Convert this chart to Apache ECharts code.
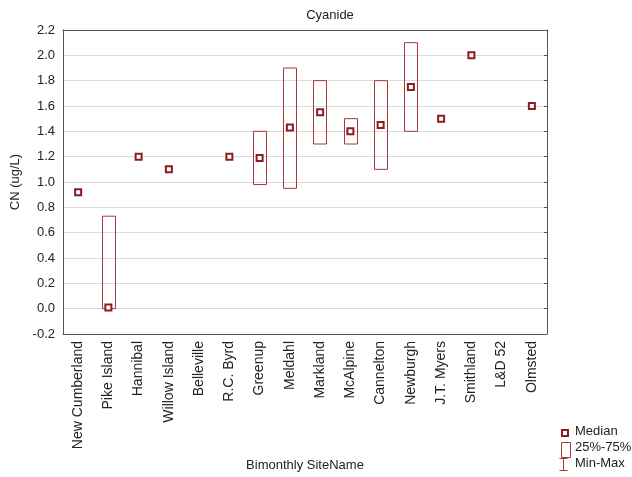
<!DOCTYPE html>
<html><head><meta charset="utf-8">
<script src="https://cdn.jsdelivr.net/npm/echarts@6/dist/echarts.min.js"></script>
<style>html,body{margin:0;padding:0;background:#fff}#c{width:632px;height:477px}</style>
</head><body><div id="c"></div>
<script>
const categories = ['New Cumberland','Pike Island','Hannibal','Willow Island','Belleville','R.C. Byrd','Greenup','Meldahl','Markland','McAlpine','Cannelton','Newburgh','J.T. Myers','Smithland','L&D 52','Olmsted'];
const medians = [0.92, 0.01, 1.2, 1.1, null, 1.2, 1.19, 1.43, 1.55, 1.4, 1.45, 1.75, 1.5, 2.0, null, 1.6];
const q25 = [null, 0.0, null, null, null, null, 0.98, 0.95, 1.3, 1.3, 1.1, 1.4, null, null, null, null];
const q75 = [null, 0.73, null, null, null, null, 1.4, 1.9, 1.8, 1.5, 1.8, 2.1, null, null, null, null];
const yTicks = {min: -0.2, max: 2.2, interval: 0.2};

const boxData = [];
categories.forEach((c, i) => { if (q25[i] != null) boxData.push([i, q25[i], q75[i]]); });
const medData = [];
categories.forEach((c, i) => { if (medians[i] != null) medData.push([i, medians[i]]); });

const font = 'Liberation Sans, Arial, sans-serif';
const chart = echarts.init(document.getElementById('c'), null, {renderer: 'canvas'});
const axisLineStyle = {color: '#555', width: 1};
chart.setOption({
  animation: false,
  title: {text: 'Cyanide', left: 325, top: 4, textAlign: 'center',
    textStyle: {fontFamily: font, fontSize: 13, fontWeight: 'normal', color: '#222'}},
  grid: {left: 63, right: 85, top: 30, bottom: 143},
  xAxis: [{
    type: 'category', data: categories, position: 'bottom',
    axisLine: {onZero: false, lineStyle: axisLineStyle},
    axisTick: {alignWithLabel: true, inside: true, length: 3, lineStyle: {color: '#555'}},
    axisLabel: {rotate: 90, fontFamily: font, fontSize: 14, color: '#222', margin: 7, interval: 0},
    name: 'Bimonthly SiteName', nameLocation: 'middle', nameGap: 125,
    nameTextStyle: {fontFamily: font, fontSize: 13, color: '#222'}
  }, {
    type: 'category', data: categories, position: 'top',
    axisLine: {onZero: false, lineStyle: axisLineStyle},
    axisTick: {alignWithLabel: true, inside: true, length: 3, lineStyle: {color: '#555'}},
    axisLabel: {show: false}
  }],
  yAxis: [{
    type: 'value', min: yTicks.min, max: yTicks.max, interval: yTicks.interval, position: 'left',
    axisLine: {show: true, onZero: false, lineStyle: axisLineStyle},
    axisTick: {show: false},
    axisLabel: {fontFamily: font, fontSize: 13, color: '#222', margin: 8,
      formatter: v => v.toFixed(1)},
    splitLine: {show: true, lineStyle: {color: '#dadada', width: 1}},
    name: 'CN (ug/L)', nameLocation: 'middle', nameGap: 34,
    nameTextStyle: {fontFamily: font, fontSize: 13, color: '#222'}
  }, {
    type: 'value', min: yTicks.min, max: yTicks.max, interval: yTicks.interval, position: 'right',
    axisLine: {show: true, onZero: false, lineStyle: axisLineStyle},
    axisTick: {show: true, inside: true, length: 3, lineStyle: {color: '#555'}},
    axisLabel: {show: false}, splitLine: {show: false}
  }],
  series: [{
    type: 'custom', name: '25%-75%', xAxisIndex: 0, yAxisIndex: 0,
    data: boxData, encode: {x: 0, y: [1, 2]},
    renderItem: function (params, api) {
      const x = api.value(0);
      const p1 = api.coord([x, api.value(1)]);
      const p2 = api.coord([x, api.value(2)]);
      const w = api.size([1, 0])[0] * 0.44;
      return {type: 'rect', shape: {x: Math.round(p1[0] - w / 2) + 0.5, y: p2[1], width: Math.round(w), height: p1[1] - p2[1]},
        style: {fill: 'none', stroke: '#a8373a', lineWidth: 1}};
    },
    z: 2
  }, {
    type: 'scatter', name: 'Median', data: medData, symbol: 'rect', symbolSize: 6,
    itemStyle: {color: '#fff', borderColor: '#8b1c1f', borderWidth: 2, opacity: 1},
    z: 3
  }],
  graphic: [
    {type: 'rect', left: 561, top: 429, shape: {width: 6, height: 6}, style: {fill: '#fff', stroke: '#8b1c1f', lineWidth: 2}},
    {type: 'text', left: 575, top: 425, style: {text: 'Median', font: '13px ' + font, fill: '#222'}},
    {type: 'rect', left: 559, top: 440, shape: {width: 9, height: 15}, style: {fill: 'none', stroke: '#a8373a', lineWidth: 1}},
    {type: 'text', left: 575, top: 441, style: {text: '25%-75%', font: '13px ' + font, fill: '#222'}},
    {type: 'polyline', shape: {points: [[559.5, 458.5], [567.5, 458.5]]}, style: {stroke: '#a8373a', lineWidth: 1}},
    {type: 'polyline', shape: {points: [[563.5, 458.5], [563.5, 470.5]]}, style: {stroke: '#a8373a', lineWidth: 1}},
    {type: 'polyline', shape: {points: [[559.5, 470.5], [567.5, 470.5]]}, style: {stroke: '#a8373a', lineWidth: 1}},
    {type: 'text', left: 575, top: 457, style: {text: 'Min-Max', font: '13px ' + font, fill: '#222'}}
  ]
});
</script></body></html>
